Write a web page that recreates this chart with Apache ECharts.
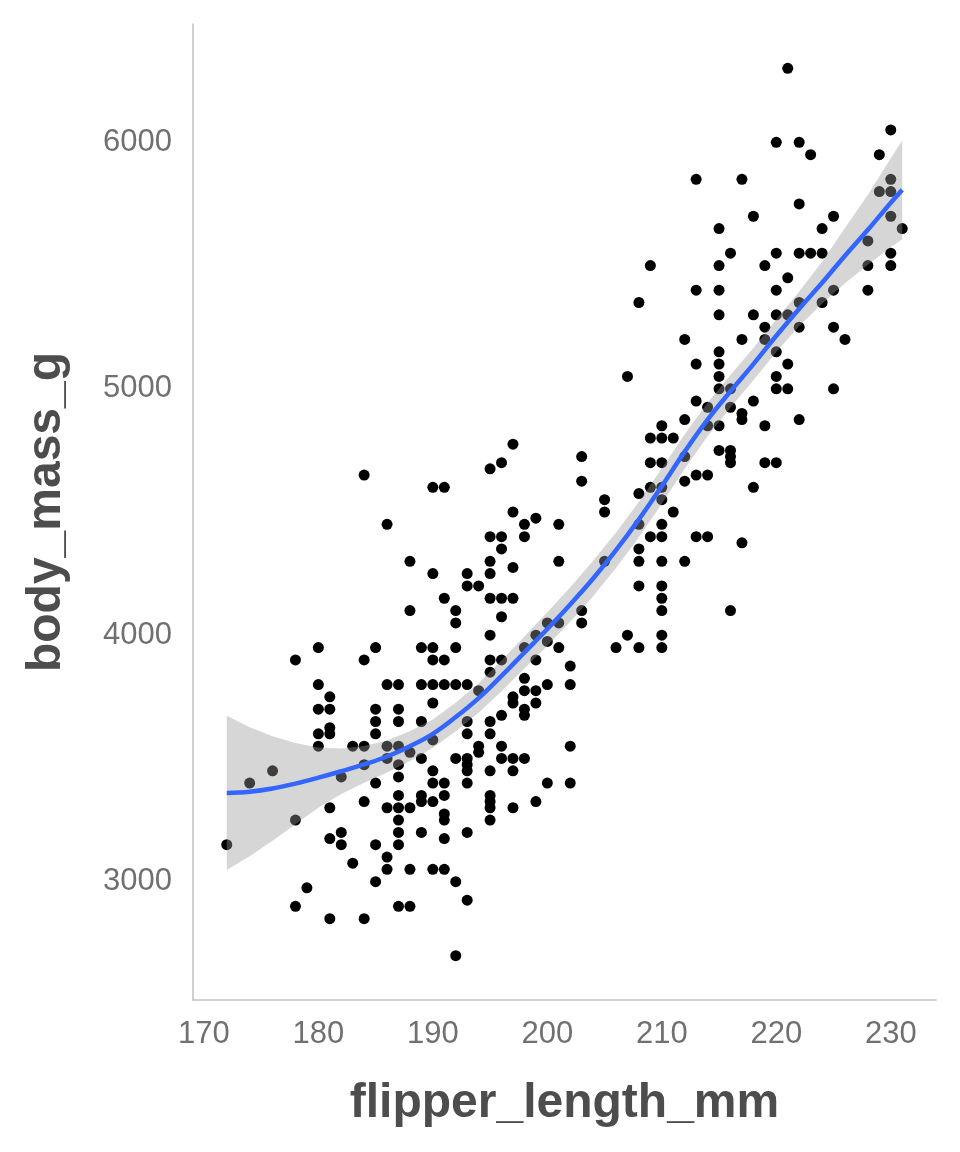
<!DOCTYPE html>
<html>
<head>
<meta charset="utf-8">
<script src="https://cdn.jsdelivr.net/npm/echarts@6/dist/echarts.min.js"></script>
<style>html,body{margin:0;padding:0;background:#fff}#chart{width:960px;height:1152px}</style>
</head>
<body>
<div id="chart"></div>
<script>
// scatter points: [flipper_length_mm, body_mass_g]
const penguins = [
[180,3950],[178,3900],[180,3800],[181,3750],[180,3700],[180,3600],[181,3625],[180,3550],[176,3450],[174,3400],
[178,3250],[172,3150],[179,2975],[178,2900],[181,3300],[181,3175],[181,2850],
[184,4650],[190,4600],[191,4600],[186,4450],[188,4300],[190,4250],[191,4150],[188,4100],[185,3950],[184,3900],
[189,3950],[190,3950],[190,3900],[191,3900],[186,3800],[187,3800],[189,3800],[190,3800],[191,3800],[181,3700],
[185,3700],[187,3700],[190,3725],[185,3650],[187,3650],[189,3650],
[181,3600],[185,3600],[190,3575],[183,3550],[184,3550],[186,3550],[187,3550],[188,3525],[186,3500],[187,3475],
[184,3475],[189,3500],[182,3425],[187,3425],[190,3450],[185,3400],[190,3400],[191,3400],[187,3350],[189,3350],
[189,3325],[191,3350],[184,3325],[190,3325],[186,3300],[187,3300],[188,3300],[187,3250],[191,3275],[182,3200],
[182,3150],[187,3200],[187,3150],[189,3200],[185,3150],[191,3175],[183,3075],[186,3100],[186,3050],[188,3050],
[190,3050],[191,3050],[185,3000],[187,2900],[188,2900],[184,2850],
[197,4775],[196,4700],[195,4675],[197,4500],[199,4475],[198,4450],[201,4450],[198,4400],[195,4400],[196,4400],
[196,4350],[195,4300],[197,4275],[201,4300],[193,4250],[195,4250],[193,4200],[194,4200],[195,4150],[196,4150],
[197,4150],[192,4100],[192,4050],[196,4075],[200,4050],[195,4000],[199,4000],[200,3975],[201,3950],[192,3950],
[195,3900],[196,3900],[198,3950],[199,3900],[192,3800],[193,3800],[195,3850],[198,3825],[198,3775],[199,3775],
[200,3800],[194,3775],[197,3750],[201,4050],[202,3875],[202,3800],
[197,3725],[198,3700],[198,3675],[199,3725],[196,3675],[193,3650],[195,3650],[193,3600],[195,3600],[194,3550],
[194,3525],[196,3550],[192,3500],[193,3500],[193,3475],[193,3450],[196,3500],[197,3500],[198,3500],[195,3450],
[197,3450],[193,3400],[191,3250],[200,3400],[195,3350],[195,3325],[195,3300],[199,3325],[197,3300],[195,3250],
[193,3200],[192,3000],[193,2925],[192,2700],[202,3550],[202,3400],
[208,5350],[209,5500],[212,5200],[207,5050],[210,4850],[212,4875],[209,4800],[210,4800],[211,4800],[209,4700],
[210,4700],[212,4725],[203,4725],[203,4625],[212,4625],[208,4575],[209,4600],[210,4600],[210,4550],[205,4550],
[205,4500],[211,4500],[208,4450],[210,4450],[209,4400],[210,4400],[208,4350],[208,4300],[210,4300],[212,4300],
[205,4300],[208,4200],[210,4200],[210,4150],[210,4100],[203,4100],[203,4050],[207,4000],[210,4000],[206,3950],
[208,3950],[210,3950],
[221,6300],[220,6000],[222,6000],[223,5950],[213,5850],[217,5850],[222,5750],[218,5700],[215,5650],[216,5550],
[220,5550],[222,5550],[223,5550],[215,5500],[219,5500],[221,5450],[213,5400],[215,5400],[220,5400],[215,5300],
[218,5300],[220,5300],[221,5300],[219,5250],[222,5350],[222,5250],
[217,5200],[219,5200],[215,5150],[215,5100],[213,5100],[220,5150],[221,5100],[215,5050],[220,5050],[215,5000],
[216,5000],[220,5000],[221,5000],[213,4950],[218,4950],[214,4925],[216,4925],[217,4900],[217,4875],[222,4875],
[219,4850],[214,4850],[215,4850],[215,4750],[216,4750],[216,4725],[216,4700],[219,4700],[220,4700],[213,4650],
[214,4650],[218,4600],[213,4400],[214,4400],[217,4375],[216,4100],
[230,6050],[229,5950],[230,5850],[229,5800],[230,5800],[230,5700],[231,5650],[225,5700],[224,5650],[224,5550],
[228,5600],[230,5550],[230,5500],[228,5500],[225,5400],[228,5400],[224,5350],[225,5250],[226,5200],[225,5000]
];

// loess fit
const fitX     = [172,174,176,178,180,182,184,186,188,190,192,194,196,198,200,202,204,206,208,210,212,214,216,218,220,222,224,226,228,230,231];
const fitY     = [3360,3365,3378,3398,3422,3448,3476,3508,3550,3600,3668,3745,3835,3930,4025,4125,4230,4345,4470,4605,4745,4875,4990,5100,5215,5325,5430,5540,5645,5755,5807];
const fitUpper = [3673,3627,3590,3563,3544,3540,3551,3573,3610,3658,3726,3805,3897,3995,4093,4195,4302,4417,4542,4677,4815,4943,5056,5165,5281,5395,5515,5652,5787,5935,6007];
const fitLower = [3047,3103,3166,3233,3300,3356,3401,3443,3490,3542,3610,3685,3773,3865,3957,4055,4158,4273,4398,4533,4675,4807,4924,5035,5149,5255,5345,5428,5503,5575,5607];

const xTicks = [170,180,190,200,210,220,230];
const yTicks = [3000,4000,5000,6000];

const chart = echarts.init(document.getElementById('chart'), null, {renderer:'canvas'});
const FONT = '"Liberation Sans", Arial, Helvetica, sans-serif';

const lineData = fitX.map((x,i)=>[x, fitY[i]]);

chart.setOption({
  animation:false,
  backgroundColor:'#ffffff',
  grid:{left:193, right:24, top:24, bottom:152, containLabel:false},
  xAxis:{
    type:'value', min:169.05, max:233.95,
    name:'flipper_length_mm', nameLocation:'middle', nameGap:80,
    nameTextStyle:{fontFamily:FONT, fontSize:48, fontWeight:'bold', color:'#4d4d4d'},
    axisLine:{show:true, lineStyle:{color:'#c4c4c4', width:1.6}},
    axisTick:{show:false},
    splitLine:{show:false},
    axisLabel:{customValues:xTicks, formatter:(v)=>String(v), fontFamily:FONT, fontSize:31, color:'#707070', margin:19}
  },
  yAxis:{
    type:'value', min:2520, max:6480,
    name:'body_mass_g', nameLocation:'middle', nameGap:122,
    nameTextStyle:{fontFamily:FONT, fontSize:48, fontWeight:'bold', color:'#4d4d4d'},
    axisLine:{show:true, lineStyle:{color:'#c4c4c4', width:1.6}},
    axisTick:{show:false},
    splitLine:{show:false},
    axisLabel:{customValues:yTicks, formatter:(v)=>String(v), fontFamily:FONT, fontSize:31, color:'#707070', margin:21}
  },
  series:[
    {
      type:'scatter', data:penguins, symbol:'circle', symbolSize:11,
      itemStyle:{color:'#000000', opacity:1}, z:2, silent:true
    },
    {
      type:'custom', z:3, silent:true, data:[0],
      renderItem:function(params, api){
        const pts = [];
        for (let i=0;i<fitX.length;i++) pts.push(api.coord([fitX[i], fitUpper[i]]));
        for (let i=fitX.length-1;i>=0;i--) pts.push(api.coord([fitX[i], fitLower[i]]));
        return {type:'polygon', shape:{points:pts, smooth:0}, style:{fill:'rgba(153,153,153,0.4)', stroke:null}};
      }
    },
    {
      type:'line', data:lineData, z:4, smooth:0.4, symbol:'none', silent:true,
      lineStyle:{color:'#3366FF', width:4.5}
    }
  ]
});
</script>
</body>
</html>
